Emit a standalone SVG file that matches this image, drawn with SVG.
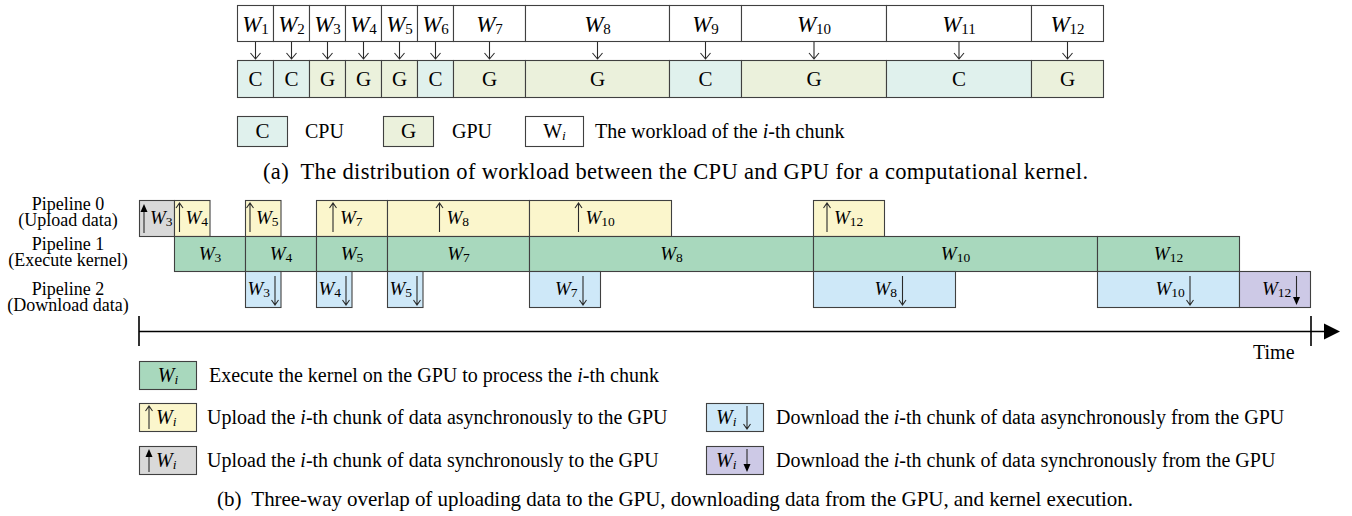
<svg xmlns="http://www.w3.org/2000/svg" width="1352" height="516" viewBox="0 0 1352 516">
  <style>
    text { font-family: "Liberation Serif", "Times New Roman", serif; fill: #000; }
    .f20 { font-size: 20px; }
    .f21 { font-size: 21px; }
    .f23 { font-size: 23px; }
    .f19 { font-size: 19px; }
    .capa { font-size: 22.5px; }
    .capb { font-size: 21px; }
    .lab { font-size: 18px; text-anchor: middle; }
    .mid { text-anchor: middle; }
    .it { font-style: italic; }
    .sub15 { font-size: 15px; }
    .sub14 { font-size: 13.5px; }
    .bx { stroke: #404040; stroke-width: 1.1; }
    .w { fill: #ffffff; }
    .cpu { fill: #e0f1ed; }
    .gpu { fill: #ebf1dc; }
    .ker { fill: #a8d8bd; }
    .up { fill: #fbf6cc; }
    .sync { fill: #d9d9d9; }
    .dn { fill: #cee8f8; }
    .dsync { fill: #cdc9e6; }
    .ln { stroke: #2a2a2a; stroke-width: 1.1; fill: none; }
    .ax { stroke: #000; stroke-width: 1.6; fill: none; }
  </style>
  <defs>
    <!-- open arrowheads (async transfers), pipeline size -->
    <path id="upOpen" d="M0,0 V29 M-3.5,5 L0,0 L3.5,5" class="ln"/>
    <path id="dnOpen" d="M0,0 V29 M-3.5,24 L0,29 L3.5,24" class="ln"/>
    <!-- filled arrowheads (sync transfers), pipeline size -->
    <g id="upFill"><path d="M0,6 V29" class="ln"/><path d="M-3.5,8 L0,0 L3.5,8 Z" fill="#000"/></g>
    <g id="dnFill"><path d="M0,0 V23" class="ln"/><path d="M-3.5,21 L0,29 L3.5,21 Z" fill="#000"/></g>
    <!-- legend size -->
    <path id="upOpenS" d="M0,0 V23 M-3.5,5 L0,0 L3.5,5" class="ln"/>
    <path id="dnOpenS" d="M0,0 V23 M-3.5,18 L0,23 L3.5,18" class="ln"/>
    <g id="upFillS"><path d="M0,6 V23" class="ln"/><path d="M-3.5,8 L0,0 L3.5,8 Z" fill="#000"/></g>
    <g id="dnFillS"><path d="M0,0 V17" class="ln"/><path d="M-3.5,15 L0,23 L3.5,15 Z" fill="#000"/></g>
    <path id="topArr" d="M0,0 V17 M-5,11 L0,17 L5,11" class="ln"/>
  </defs>

  <!-- ===== (a) workload chunks ===== -->
  <g id="chunks">
    <g id="w1"><rect class="bx w" x="237.5" y="5.5" width="36" height="36"/><text class="f23 mid" x="255.5" y="32"><tspan class="it">W</tspan><tspan class="sub15" dy="2">1</tspan></text></g>
    <g id="w2"><rect class="bx w" x="273.5" y="5.5" width="36" height="36"/><text class="f23 mid" x="291.5" y="32"><tspan class="it">W</tspan><tspan class="sub15" dy="2">2</tspan></text></g>
    <g id="w3"><rect class="bx w" x="309.5" y="5.5" width="36" height="36"/><text class="f23 mid" x="327.5" y="32"><tspan class="it">W</tspan><tspan class="sub15" dy="2">3</tspan></text></g>
    <g id="w4"><rect class="bx w" x="345.5" y="5.5" width="36" height="36"/><text class="f23 mid" x="363.5" y="32"><tspan class="it">W</tspan><tspan class="sub15" dy="2">4</tspan></text></g>
    <g id="w5"><rect class="bx w" x="381.5" y="5.5" width="36" height="36"/><text class="f23 mid" x="399.5" y="32"><tspan class="it">W</tspan><tspan class="sub15" dy="2">5</tspan></text></g>
    <g id="w6"><rect class="bx w" x="417.5" y="5.5" width="36" height="36"/><text class="f23 mid" x="435.5" y="32"><tspan class="it">W</tspan><tspan class="sub15" dy="2">6</tspan></text></g>
    <g id="w7"><rect class="bx w" x="453.5" y="5.5" width="72" height="36"/><text class="f23 mid" x="489.5" y="32"><tspan class="it">W</tspan><tspan class="sub15" dy="2">7</tspan></text></g>
    <g id="w8"><rect class="bx w" x="525.5" y="5.5" width="144" height="36"/><text class="f23 mid" x="597.5" y="32"><tspan class="it">W</tspan><tspan class="sub15" dy="2">8</tspan></text></g>
    <g id="w9"><rect class="bx w" x="669.5" y="5.5" width="72" height="36"/><text class="f23 mid" x="705.5" y="32"><tspan class="it">W</tspan><tspan class="sub15" dy="2">9</tspan></text></g>
    <g id="w10"><rect class="bx w" x="741.5" y="5.5" width="145" height="36"/><text class="f23 mid" x="814" y="32"><tspan class="it">W</tspan><tspan class="sub15" dy="2">10</tspan></text></g>
    <g id="w11"><rect class="bx w" x="886.5" y="5.5" width="145" height="36"/><text class="f23 mid" x="959" y="32"><tspan class="it">W</tspan><tspan class="sub15" dy="2">11</tspan></text></g>
    <g id="w12"><rect class="bx w" x="1031.5" y="5.5" width="72" height="36"/><text class="f23 mid" x="1067.5" y="32"><tspan class="it">W</tspan><tspan class="sub15" dy="2">12</tspan></text></g>
  </g>

  <g id="devices">
    <g id="d1"><rect class="bx cpu" x="237.5" y="60.5" width="36" height="37"/><text class="f21 mid" x="255.5" y="86">C</text></g>
    <g id="d2"><rect class="bx cpu" x="273.5" y="60.5" width="36" height="37"/><text class="f21 mid" x="291.5" y="86">C</text></g>
    <g id="d3"><rect class="bx gpu" x="309.5" y="60.5" width="36" height="37"/><text class="f21 mid" x="327.5" y="86">G</text></g>
    <g id="d4"><rect class="bx gpu" x="345.5" y="60.5" width="36" height="37"/><text class="f21 mid" x="363.5" y="86">G</text></g>
    <g id="d5"><rect class="bx gpu" x="381.5" y="60.5" width="36" height="37"/><text class="f21 mid" x="399.5" y="86">G</text></g>
    <g id="d6"><rect class="bx cpu" x="417.5" y="60.5" width="36" height="37"/><text class="f21 mid" x="435.5" y="86">C</text></g>
    <g id="d7"><rect class="bx gpu" x="453.5" y="60.5" width="72" height="37"/><text class="f21 mid" x="489.5" y="86">G</text></g>
    <g id="d8"><rect class="bx gpu" x="525.5" y="60.5" width="144" height="37"/><text class="f21 mid" x="597.5" y="86">G</text></g>
    <g id="d9"><rect class="bx cpu" x="669.5" y="60.5" width="72" height="37"/><text class="f21 mid" x="705.5" y="86">C</text></g>
    <g id="d10"><rect class="bx gpu" x="741.5" y="60.5" width="145" height="37"/><text class="f21 mid" x="814" y="86">G</text></g>
    <g id="d11"><rect class="bx cpu" x="886.5" y="60.5" width="145" height="37"/><text class="f21 mid" x="959" y="86">C</text></g>
    <g id="d12"><rect class="bx gpu" x="1031.5" y="60.5" width="72" height="37"/><text class="f21 mid" x="1067.5" y="86">G</text></g>
  </g>

  <g id="assign-arrows">
    <use href="#topArr" x="255.5" y="42"/>
    <use href="#topArr" x="291.5" y="42"/>
    <use href="#topArr" x="327.5" y="42"/>
    <use href="#topArr" x="363.5" y="42"/>
    <use href="#topArr" x="399.5" y="42"/>
    <use href="#topArr" x="435.5" y="42"/>
    <use href="#topArr" x="489.5" y="42"/>
    <use href="#topArr" x="597.5" y="42"/>
    <use href="#topArr" x="705.5" y="42"/>
    <use href="#topArr" x="814" y="42"/>
    <use href="#topArr" x="959" y="42"/>
    <use href="#topArr" x="1067.5" y="42"/>
  </g>

  <g id="legend-a">
    <rect class="bx cpu" x="237.5" y="116.5" width="50" height="30"/><text class="f21 mid" x="262.5" y="138">C</text>
    <text class="f20" x="305" y="138">CPU</text>
    <rect class="bx gpu" x="383.5" y="116.5" width="50" height="30"/><text class="f21 mid" x="408.5" y="138">G</text>
    <text class="f20" x="452" y="138">GPU</text>
    <rect class="bx w" x="525.5" y="116.5" width="58" height="30"/><text class="f20 mid" x="554.5" y="138">W<tspan class="sub14 it" dy="2">i</tspan></text>
    <text class="f20" x="595" y="138">The workload of the <tspan class="it">i</tspan>-th chunk</text>
  </g>
  <text class="capa" x="263" y="179" textLength="825" lengthAdjust="spacing">(a)&#160; The distribution of workload between the CPU and GPU for a computational kernel.</text>

  <!-- ===== (b) pipelines ===== -->
  <g id="pipe-labels">
    <text class="lab" x="68" y="210">Pipeline 0<tspan x="68" dy="15.5">(Upload data)</tspan></text>
    <text class="lab" x="68" y="250">Pipeline 1<tspan x="68" dy="16">(Execute kernel)</tspan></text>
    <text class="lab" x="68" y="295">Pipeline 2<tspan x="68" dy="16">(Download data)</tspan></text>
  </g>

  <!-- pipeline 0: uploads -->
  <g id="upload">
    <g id="u3"><rect class="bx sync" x="139.5" y="200.5" width="35" height="36"/><use href="#upFill" x="144" y="204"/><text class="f19" x="150" y="224"><tspan class="it">W</tspan><tspan class="sub14" dy="2">3</tspan></text></g>
    <g id="u4"><rect class="bx up" x="174.5" y="200.5" width="35.5" height="36"/><use href="#upOpen" x="179.5" y="203"/><text class="f19" x="185.5" y="224"><tspan class="it">W</tspan><tspan class="sub14" dy="2">4</tspan></text></g>
    <g id="u5"><rect class="bx up" x="245.5" y="200.5" width="35.5" height="36"/><use href="#upOpen" x="250" y="203"/><text class="f19" x="256" y="224"><tspan class="it">W</tspan><tspan class="sub14" dy="2">5</tspan></text></g>
    <g id="u7"><rect class="bx up" x="316.5" y="200.5" width="71" height="36"/><use href="#upOpen" x="333" y="203"/><text class="f19" x="340" y="224"><tspan class="it">W</tspan><tspan class="sub14" dy="2">7</tspan></text></g>
    <g id="u8"><rect class="bx up" x="387.5" y="200.5" width="142" height="36"/><use href="#upOpen" x="439.5" y="203"/><text class="f19" x="446.5" y="224"><tspan class="it">W</tspan><tspan class="sub14" dy="2">8</tspan></text></g>
    <g id="u10"><rect class="bx up" x="529.5" y="200.5" width="142" height="36"/><use href="#upOpen" x="578.5" y="203"/><text class="f19" x="585.5" y="224"><tspan class="it">W</tspan><tspan class="sub14" dy="2">10</tspan></text></g>
    <g id="u12"><rect class="bx up" x="813.5" y="200.5" width="71" height="36"/><use href="#upOpen" x="827" y="203"/><text class="f19" x="834" y="224"><tspan class="it">W</tspan><tspan class="sub14" dy="2">12</tspan></text></g>
  </g>

  <!-- pipeline 1: kernels -->
  <g id="kernel">
    <g id="k3"><rect class="bx ker" x="174.5" y="236.5" width="71" height="35"/><text class="f19 mid" x="210" y="260"><tspan class="it">W</tspan><tspan class="sub14" dy="2">3</tspan></text></g>
    <g id="k4"><rect class="bx ker" x="245.5" y="236.5" width="71" height="35"/><text class="f19 mid" x="281" y="260"><tspan class="it">W</tspan><tspan class="sub14" dy="2">4</tspan></text></g>
    <g id="k5"><rect class="bx ker" x="316.5" y="236.5" width="71" height="35"/><text class="f19 mid" x="352" y="260"><tspan class="it">W</tspan><tspan class="sub14" dy="2">5</tspan></text></g>
    <g id="k7"><rect class="bx ker" x="387.5" y="236.5" width="142" height="35"/><text class="f19 mid" x="458.5" y="260"><tspan class="it">W</tspan><tspan class="sub14" dy="2">7</tspan></text></g>
    <g id="k8"><rect class="bx ker" x="529.5" y="236.5" width="284" height="35"/><text class="f19 mid" x="671.5" y="260"><tspan class="it">W</tspan><tspan class="sub14" dy="2">8</tspan></text></g>
    <g id="k10"><rect class="bx ker" x="813.5" y="236.5" width="284" height="35"/><text class="f19 mid" x="955.5" y="260"><tspan class="it">W</tspan><tspan class="sub14" dy="2">10</tspan></text></g>
    <g id="k12"><rect class="bx ker" x="1097.5" y="236.5" width="142" height="35"/><text class="f19 mid" x="1168.5" y="260"><tspan class="it">W</tspan><tspan class="sub14" dy="2">12</tspan></text></g>
  </g>

  <!-- pipeline 2: downloads -->
  <g id="download">
    <g id="o3"><rect class="bx dn" x="245.5" y="271.5" width="35.5" height="36"/><text class="f19" x="247.5" y="295"><tspan class="it">W</tspan><tspan class="sub14" dy="2">3</tspan></text><use href="#dnOpen" x="275" y="276"/></g>
    <g id="o4"><rect class="bx dn" x="316.5" y="271.5" width="35.5" height="36"/><text class="f19" x="318.5" y="295"><tspan class="it">W</tspan><tspan class="sub14" dy="2">4</tspan></text><use href="#dnOpen" x="346" y="276"/></g>
    <g id="o5"><rect class="bx dn" x="387.5" y="271.5" width="35.5" height="36"/><text class="f19" x="389.5" y="295"><tspan class="it">W</tspan><tspan class="sub14" dy="2">5</tspan></text><use href="#dnOpen" x="417" y="276"/></g>
    <g id="o7"><rect class="bx dn" x="529.5" y="271.5" width="71" height="36"/><text class="f19" x="555" y="295"><tspan class="it">W</tspan><tspan class="sub14" dy="2">7</tspan></text><use href="#dnOpen" x="583" y="276"/></g>
    <g id="o8"><rect class="bx dn" x="813.5" y="271.5" width="142" height="36"/><text class="f19" x="874.5" y="295"><tspan class="it">W</tspan><tspan class="sub14" dy="2">8</tspan></text><use href="#dnOpen" x="902.5" y="276"/></g>
    <g id="o10"><rect class="bx dn" x="1097.5" y="271.5" width="142" height="36"/><text class="f19" x="1155.5" y="295"><tspan class="it">W</tspan><tspan class="sub14" dy="2">10</tspan></text><use href="#dnOpen" x="1190" y="276"/></g>
    <g id="o12"><rect class="bx dsync" x="1239.5" y="271.5" width="71" height="36"/><text class="f19" x="1262" y="295"><tspan class="it">W</tspan><tspan class="sub14" dy="2">12</tspan></text><use href="#dnFill" x="1296.5" y="276"/></g>
  </g>

  <!-- time axis -->
  <g id="axis">
    <path class="ax" d="M139,331.5 H1326 M139,316 V346 M1311,316 V346"/>
    <path d="M1324,323.5 L1340,331.5 L1324,339.5 Z" fill="#000"/>
    <text class="f20" x="1253" y="359">Time</text>
  </g>

  <g id="legend-b">
    <rect class="bx ker" x="139.5" y="361.5" width="57" height="28"/>
    <text class="f20 mid" x="168" y="382"><tspan class="it">W</tspan><tspan class="sub14 it" dy="2">i</tspan></text>
    <text class="f20" x="209" y="382">Execute the kernel on the GPU to process the <tspan class="it">i</tspan>-th chunk</text>

    <rect class="bx up" x="139.5" y="403.5" width="57" height="28"/>
    <use href="#upOpenS" x="149" y="406"/>
    <text class="f20" x="156" y="424"><tspan class="it">W</tspan><tspan class="sub14 it" dy="2">i</tspan></text>
    <text class="f20" x="207" y="424">Upload the <tspan class="it">i</tspan>-th chunk of data asynchronously to the GPU</text>

    <rect class="bx sync" x="139.5" y="446.5" width="57" height="28"/>
    <use href="#upFillS" x="149" y="449"/>
    <text class="f20" x="156" y="467"><tspan class="it">W</tspan><tspan class="sub14 it" dy="2">i</tspan></text>
    <text class="f20" x="207" y="467">Upload the <tspan class="it">i</tspan>-th chunk of data synchronously to the GPU</text>

    <rect class="bx dn" x="706.5" y="403.5" width="57" height="28"/>
    <text class="f20" x="716" y="424"><tspan class="it">W</tspan><tspan class="sub14 it" dy="2">i</tspan></text>
    <use href="#dnOpenS" x="747" y="406"/>
    <text class="f20" x="776" y="424">Download the <tspan class="it">i</tspan>-th chunk of data asynchronously from the GPU</text>

    <rect class="bx dsync" x="706.5" y="446.5" width="57" height="28"/>
    <text class="f20" x="716" y="467"><tspan class="it">W</tspan><tspan class="sub14 it" dy="2">i</tspan></text>
    <use href="#dnFillS" x="747" y="449"/>
    <text class="f20" x="776" y="467">Download the <tspan class="it">i</tspan>-th chunk of data synchronously from the GPU</text>
  </g>
  <text class="capb" x="217" y="506" textLength="916" lengthAdjust="spacing">(b)&#160; Three-way overlap of uploading data to the GPU, downloading data from the GPU, and kernel execution.</text>
</svg>
